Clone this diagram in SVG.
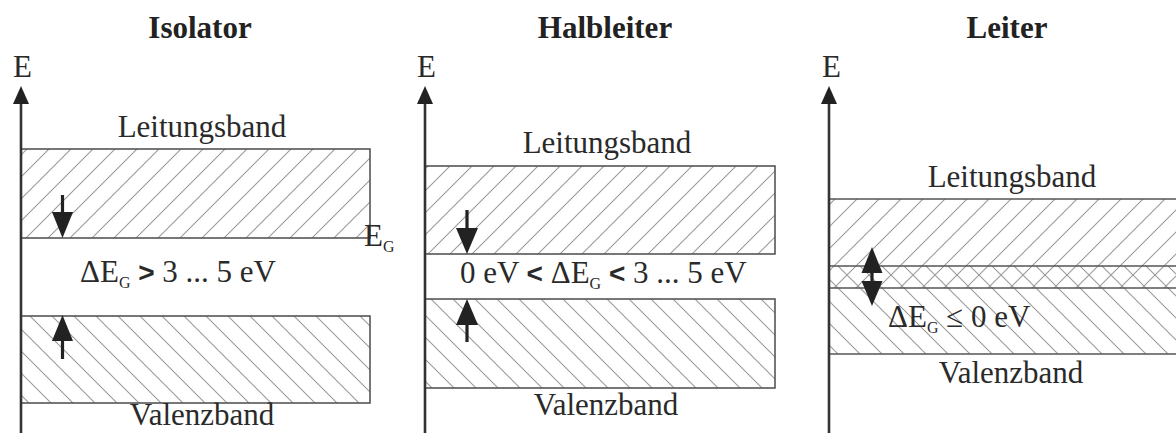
<svg xmlns="http://www.w3.org/2000/svg" width="1176" height="433" viewBox="0 0 1176 433">
  <style>
    .t { font-family: "Liberation Serif", "Times New Roman", serif; font-size: 31px; fill: #2a2a2a; }
    .title { font-family: "Liberation Serif", "Times New Roman", serif; font-size: 31px; font-weight: bold; fill: #222; }
    .sub { font-size: 16px; }
    .op { font-family: "Liberation Sans", Arial, sans-serif; font-weight: bold; font-size: 28px; }
    .band { stroke: #555; stroke-width: 1.6; }
    .axis { stroke: #333; stroke-width: 2.6; fill: none; }
    .shaft { stroke: #222; stroke-width: 3.2; fill: none; }
    .head { fill: #222; stroke: none; }
    .hl { stroke: #9a9a9a; stroke-width: 1.1; fill: none; }
  </style>
  <defs>
    <pattern id="hatchUp" patternUnits="userSpaceOnUse" width="22" height="22">
      <path class="hl" d="M-3,3 L3,-3 M0,22 L22,0 M19,25 L25,19"/>
    </pattern>
    <pattern id="hatchDown" patternUnits="userSpaceOnUse" width="22" height="22">
      <path class="hl" d="M-3,19 L3,25 M0,0 L22,22 M19,-3 L25,3"/>
    </pattern>
  </defs>
  <rect width="1176" height="433" fill="#ffffff"/>

  <!-- Isolator -->
  <g id="isolator">
    <text class="title" x="200" y="38" text-anchor="middle">Isolator</text>
    <text class="t" x="13" y="77">E</text>
    <text class="t" x="202" y="137" text-anchor="middle">Leitungsband</text>
    <rect class="band" x="21" y="149" width="349" height="89" fill="url(#hatchUp)"/>
    <rect class="band" x="21" y="316" width="349" height="87" fill="url(#hatchDown)"/>
    <text class="t" x="80" y="282">ΔE<tspan class="sub" dy="6">G</tspan><tspan dy="-6"> </tspan><tspan class="op">&gt;</tspan> 3 ... 5 eV</text>
    <text class="t" x="364" y="246">E<tspan class="sub" dy="6">G</tspan></text>
    <text class="t" x="202" y="425" text-anchor="middle">Valenzband</text>
  </g>

  <!-- Halbleiter -->
  <g id="halbleiter">
    <text class="title" x="605" y="38" text-anchor="middle">Halbleiter</text>
    <text class="t" x="417" y="77">E</text>
    <text class="t" x="607" y="153" text-anchor="middle">Leitungsband</text>
    <rect class="band" x="425" y="166" width="350" height="88" fill="url(#hatchUp)"/>
    <rect class="band" x="425" y="299" width="350" height="89" fill="url(#hatchDown)"/>
    <text class="t" x="460" y="283">0 eV <tspan class="op">&lt;</tspan> ΔE<tspan class="sub" dy="6">G</tspan><tspan dy="-6"> </tspan><tspan class="op">&lt;</tspan> 3 ... 5 eV</text>
    <text class="t" x="606" y="415" text-anchor="middle">Valenzband</text>
  </g>

  <!-- Leiter -->
  <g id="leiter">
    <text class="title" x="1007" y="38" text-anchor="middle">Leiter</text>
    <text class="t" x="822" y="77">E</text>
    <text class="t" x="1012" y="187" text-anchor="middle">Leitungsband</text>
    <rect x="829" y="199" width="360" height="89" fill="url(#hatchUp)"/>
    <rect x="829" y="266" width="360" height="88" fill="url(#hatchDown)"/>
    <path class="band" fill="none" d="M829,199 H1180 M829,288 H1180 M829,266 H1180 M829,354 H1180"/>
    <text class="t" x="888" y="327">ΔE<tspan class="sub" dy="6">G</tspan><tspan dy="-6"> ≤ 0 eV</tspan></text>
    <text class="t" x="1011" y="383" text-anchor="middle">Valenzband</text>
  </g>

  <!-- connectors: axes and gap arrows -->
  <g id="connectors">
    <line class="axis" x1="21" y1="100" x2="21" y2="433"/>
    <polygon class="head" points="13,104 29,104 21,86"/>
    <line class="axis" x1="425" y1="100" x2="425" y2="433"/>
    <polygon class="head" points="417,104 433,104 425,86"/>
    <line class="axis" x1="829" y1="100" x2="829" y2="433"/>
    <polygon class="head" points="821,104 837,104 829,86"/>

    <line class="shaft" x1="62.5" y1="195" x2="62.5" y2="215"/>
    <polygon class="head" points="52,212 73,212 62.5,238"/>
    <line class="shaft" x1="62.5" y1="338" x2="62.5" y2="359"/>
    <polygon class="head" points="52,341 73,341 62.5,315"/>

    <line class="shaft" x1="467" y1="210" x2="467" y2="231"/>
    <polygon class="head" points="456,228 478,228 467,254"/>
    <line class="shaft" x1="467" y1="322" x2="467" y2="342"/>
    <polygon class="head" points="456,325 478,325 467,299"/>

    <line class="shaft" x1="872" y1="270" x2="872" y2="284"/>
    <polygon class="head" points="861.5,273 882.5,273 872,247"/>
    <polygon class="head" points="861.5,281 882.5,281 872,306"/>
  </g>
</svg>
